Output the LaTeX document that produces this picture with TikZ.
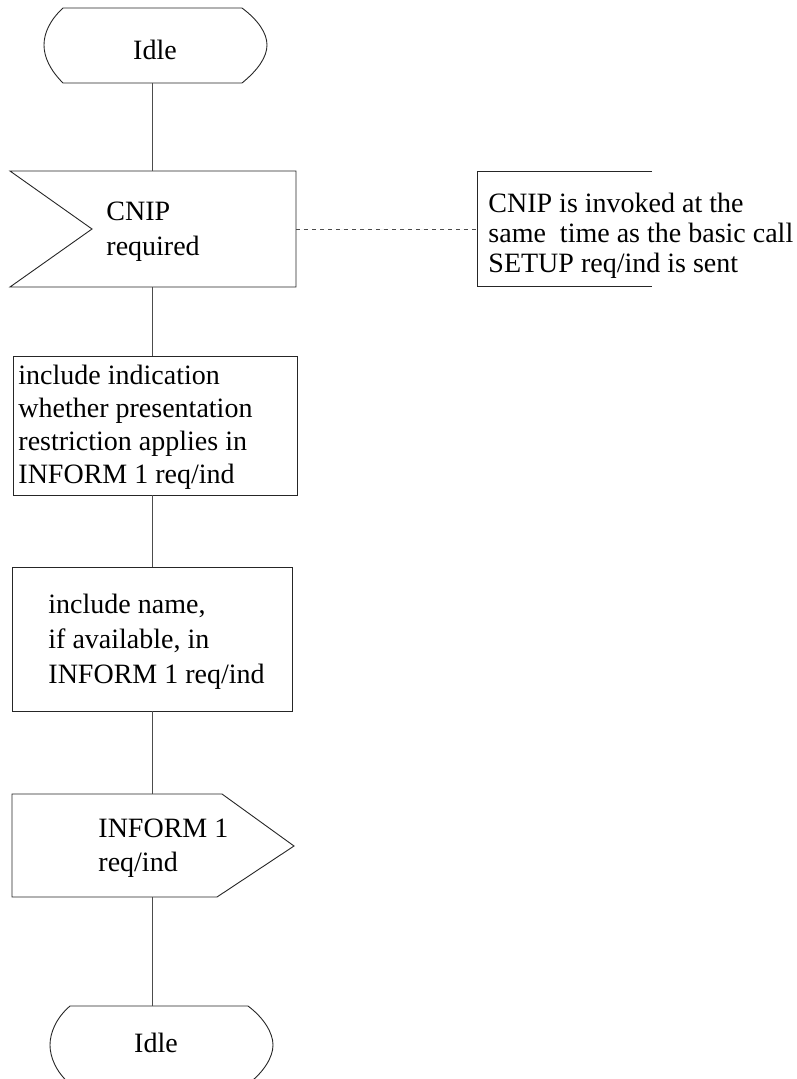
\documentclass[tikz,border=0pt]{standalone}
\usepackage{fontspec}
\setmainfont{Liberation Serif}
\begin{document}
\begin{tikzpicture}[x=1pt,y=-1pt,line width=0.9pt,
  shp/.style={draw=black!85},
  conn/.style={draw=black!70},
  txt/.style={font=\fontsize{28}{33}\selectfont,inner sep=0pt,align=left},
  ctxt/.style={font=\fontsize{28}{30}\selectfont,inner sep=0pt,align=left}]
\clip (0,0) rectangle (797,1079);
\useasboundingbox (0,0) rectangle (797,1079);
\coordinate (spine) at (152,0);
% top Idle
\draw[shp] (63,8) -- (242,8) .. controls (258,20) and (267,33) .. (267,45)
  .. controls (267,57) and (258,70) .. (242,83) -- (63,83)
  .. controls (50,70) and (44,57) .. (44,45) .. controls (44,33) and (50,20) .. (63,8) -- cycle;
\node[txt] (idle1) at (155,50) {Idle};
\coordinate (idle1s) at (152,83);
% CNIP required input
\draw[shp] (10,171) -- (296,171) -- (296,287) -- (10,287) -- (92,229) -- cycle;
\node[txt,anchor=west,font=\fontsize{28}{35}\selectfont] (cnip) at (106,232) {CNIP\\required};
\coordinate (cnipn) at (152,171);
\coordinate (cnips) at (152,287);
\coordinate (cnipe) at (296,229);
% comment
\draw[shp] (652,171) -- (477,171) -- (477,286) -- (652,286);
\coordinate (comw) at (477,229);
\node[ctxt,anchor=west] (com) at (488,236) {CNIP is invoked at the\\same\ \ time as the basic call\\SETUP req/ind is sent};
% box 1
\draw[shp] (13,356) rectangle (297,495);
\node[txt,anchor=west] (b1) at (18,427) {include indication\\whether presentation\\restriction applies in\\INFORM 1 req/ind};
\coordinate (b1n) at (152,356);
\coordinate (b1s) at (152,495);
% box 2
\draw[shp] (12,567) rectangle (292,711);
\node[txt,anchor=west,font=\fontsize{28}{35}\selectfont] (b2) at (48,642) {include name,\\if available, in\\INFORM 1 req/ind};
\coordinate (b2n) at (152,567);
\coordinate (b2s) at (152,711);
% output
\draw[shp] (12,794) -- (222,794) -- (294,846) -- (217,897) -- (12,897) -- cycle;
\node[txt,anchor=west,font=\fontsize{28}{34}\selectfont] (out) at (98,848) {INFORM 1\\req/ind};
\coordinate (outn) at (152,794);
\coordinate (outs) at (152,897);
% bottom Idle
\draw[shp] (70,1006) -- (248,1006) .. controls (264,1018) and (273,1033) .. (273,1045)
  .. controls (273,1057) and (264,1072) .. (248,1084) -- (70,1084)
  .. controls (56,1072) and (50,1057) .. (50,1045) .. controls (50,1033) and (56,1018) .. (70,1006) -- cycle;
\node[txt] (idle2) at (156,1043) {Idle};
\coordinate (idle2n) at (152,1006);
% connectors
\draw[conn] (idle1s) -- (cnipn);
\draw[conn] (cnips) -- (b1n);
\draw[conn] (b1s) -- (b2n);
\draw[conn] (b2s) -- (outn);
\draw[conn] (outs) -- (idle2n);
\draw[conn,dash pattern=on 4pt off 4pt] (cnipe) -- (comw);
\end{tikzpicture}
\end{document}
